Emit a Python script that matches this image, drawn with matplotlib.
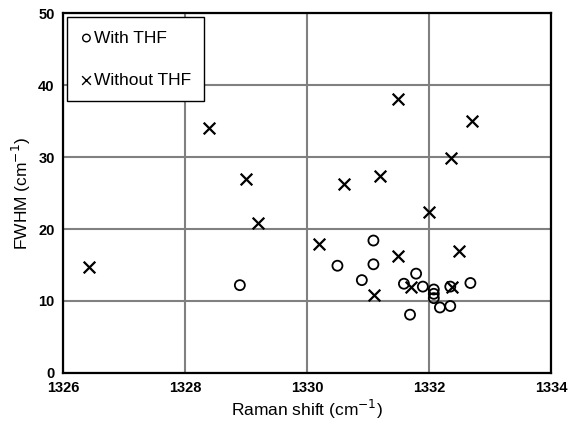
import matplotlib.pyplot as plt

plt.rcParams['font.family'] = ['Liberation Sans', 'DejaVu Sans']

# with THF
x_avec = [1328.9, 1330.5, 1330.9, 1331.09, 1331.09, 1331.59, 1331.69, 1331.79, 1331.9,
          1332.08, 1332.08, 1332.08, 1332.18, 1332.35, 1332.35, 1332.68]
y_avec = [12.2, 14.9, 12.9, 15.1, 18.4, 12.4, 8.1, 13.8, 12.0,
          11.6, 11.0, 10.4, 9.1, 9.3, 12.0, 12.5]

# without THF
x_sans = [1326.43, 1328.39, 1329.0, 1329.2, 1330.2, 1330.61, 1331.1, 1331.2, 1331.5,
          1331.5, 1331.7, 1332.0, 1332.37, 1332.38, 1332.5, 1332.7]
y_sans = [14.7, 34.0, 26.9, 20.9, 17.9, 26.3, 10.8, 27.3, 38.1,
          16.3, 11.9, 22.4, 29.9, 12.0, 16.9, 35.0]

fig = plt.figure(figsize=(5.7, 4.3), dpi=100)
ax = fig.add_axes([0.1105, 0.1326, 0.856, 0.837])

ax.scatter(x_avec, y_avec, marker='o', s=52, facecolors='none', edgecolors='black',
           linewidths=1.3, label='With THF', zorder=3)
ax.scatter(x_sans, y_sans, marker='x', s=70, color='black', linewidths=1.6,
           label='Without THF', zorder=3)

ax.set_xlim(1326, 1334)
ax.set_ylim(0, 50)
ax.set_xticks(range(1326, 1335, 2))
ax.set_yticks(range(0, 51, 10))
ax.grid(True, color='#808080', linewidth=1.5)
ax.set_axisbelow(True)
ax.tick_params(length=0, labelsize=10.5, pad=6)
for lab in ax.get_xticklabels() + ax.get_yticklabels():
    lab.set_fontweight('bold')
for sp in ax.spines.values():
    sp.set_linewidth(1.6)

ax.set_xlabel('Raman shift (cm$^{-1}$)', fontsize=12.5, labelpad=2)
ax.set_ylabel('FWHM (cm$^{-1}$)', fontsize=12.5, labelpad=4)

leg = ax.legend(loc='upper left', fontsize=12.5, frameon=True, fancybox=False,
                edgecolor='black', handletextpad=0.1, handlelength=0.7,
                labelspacing=1.55, borderpad=0.75, borderaxespad=0.25,
                markerscale=0.75)
leg.get_frame().set_linewidth(1.0)
leg.get_frame().set_alpha(1)
for h in leg.legend_handles:
    h.set_linewidth(1.0)

fig.savefig('out.png', dpi=100)
